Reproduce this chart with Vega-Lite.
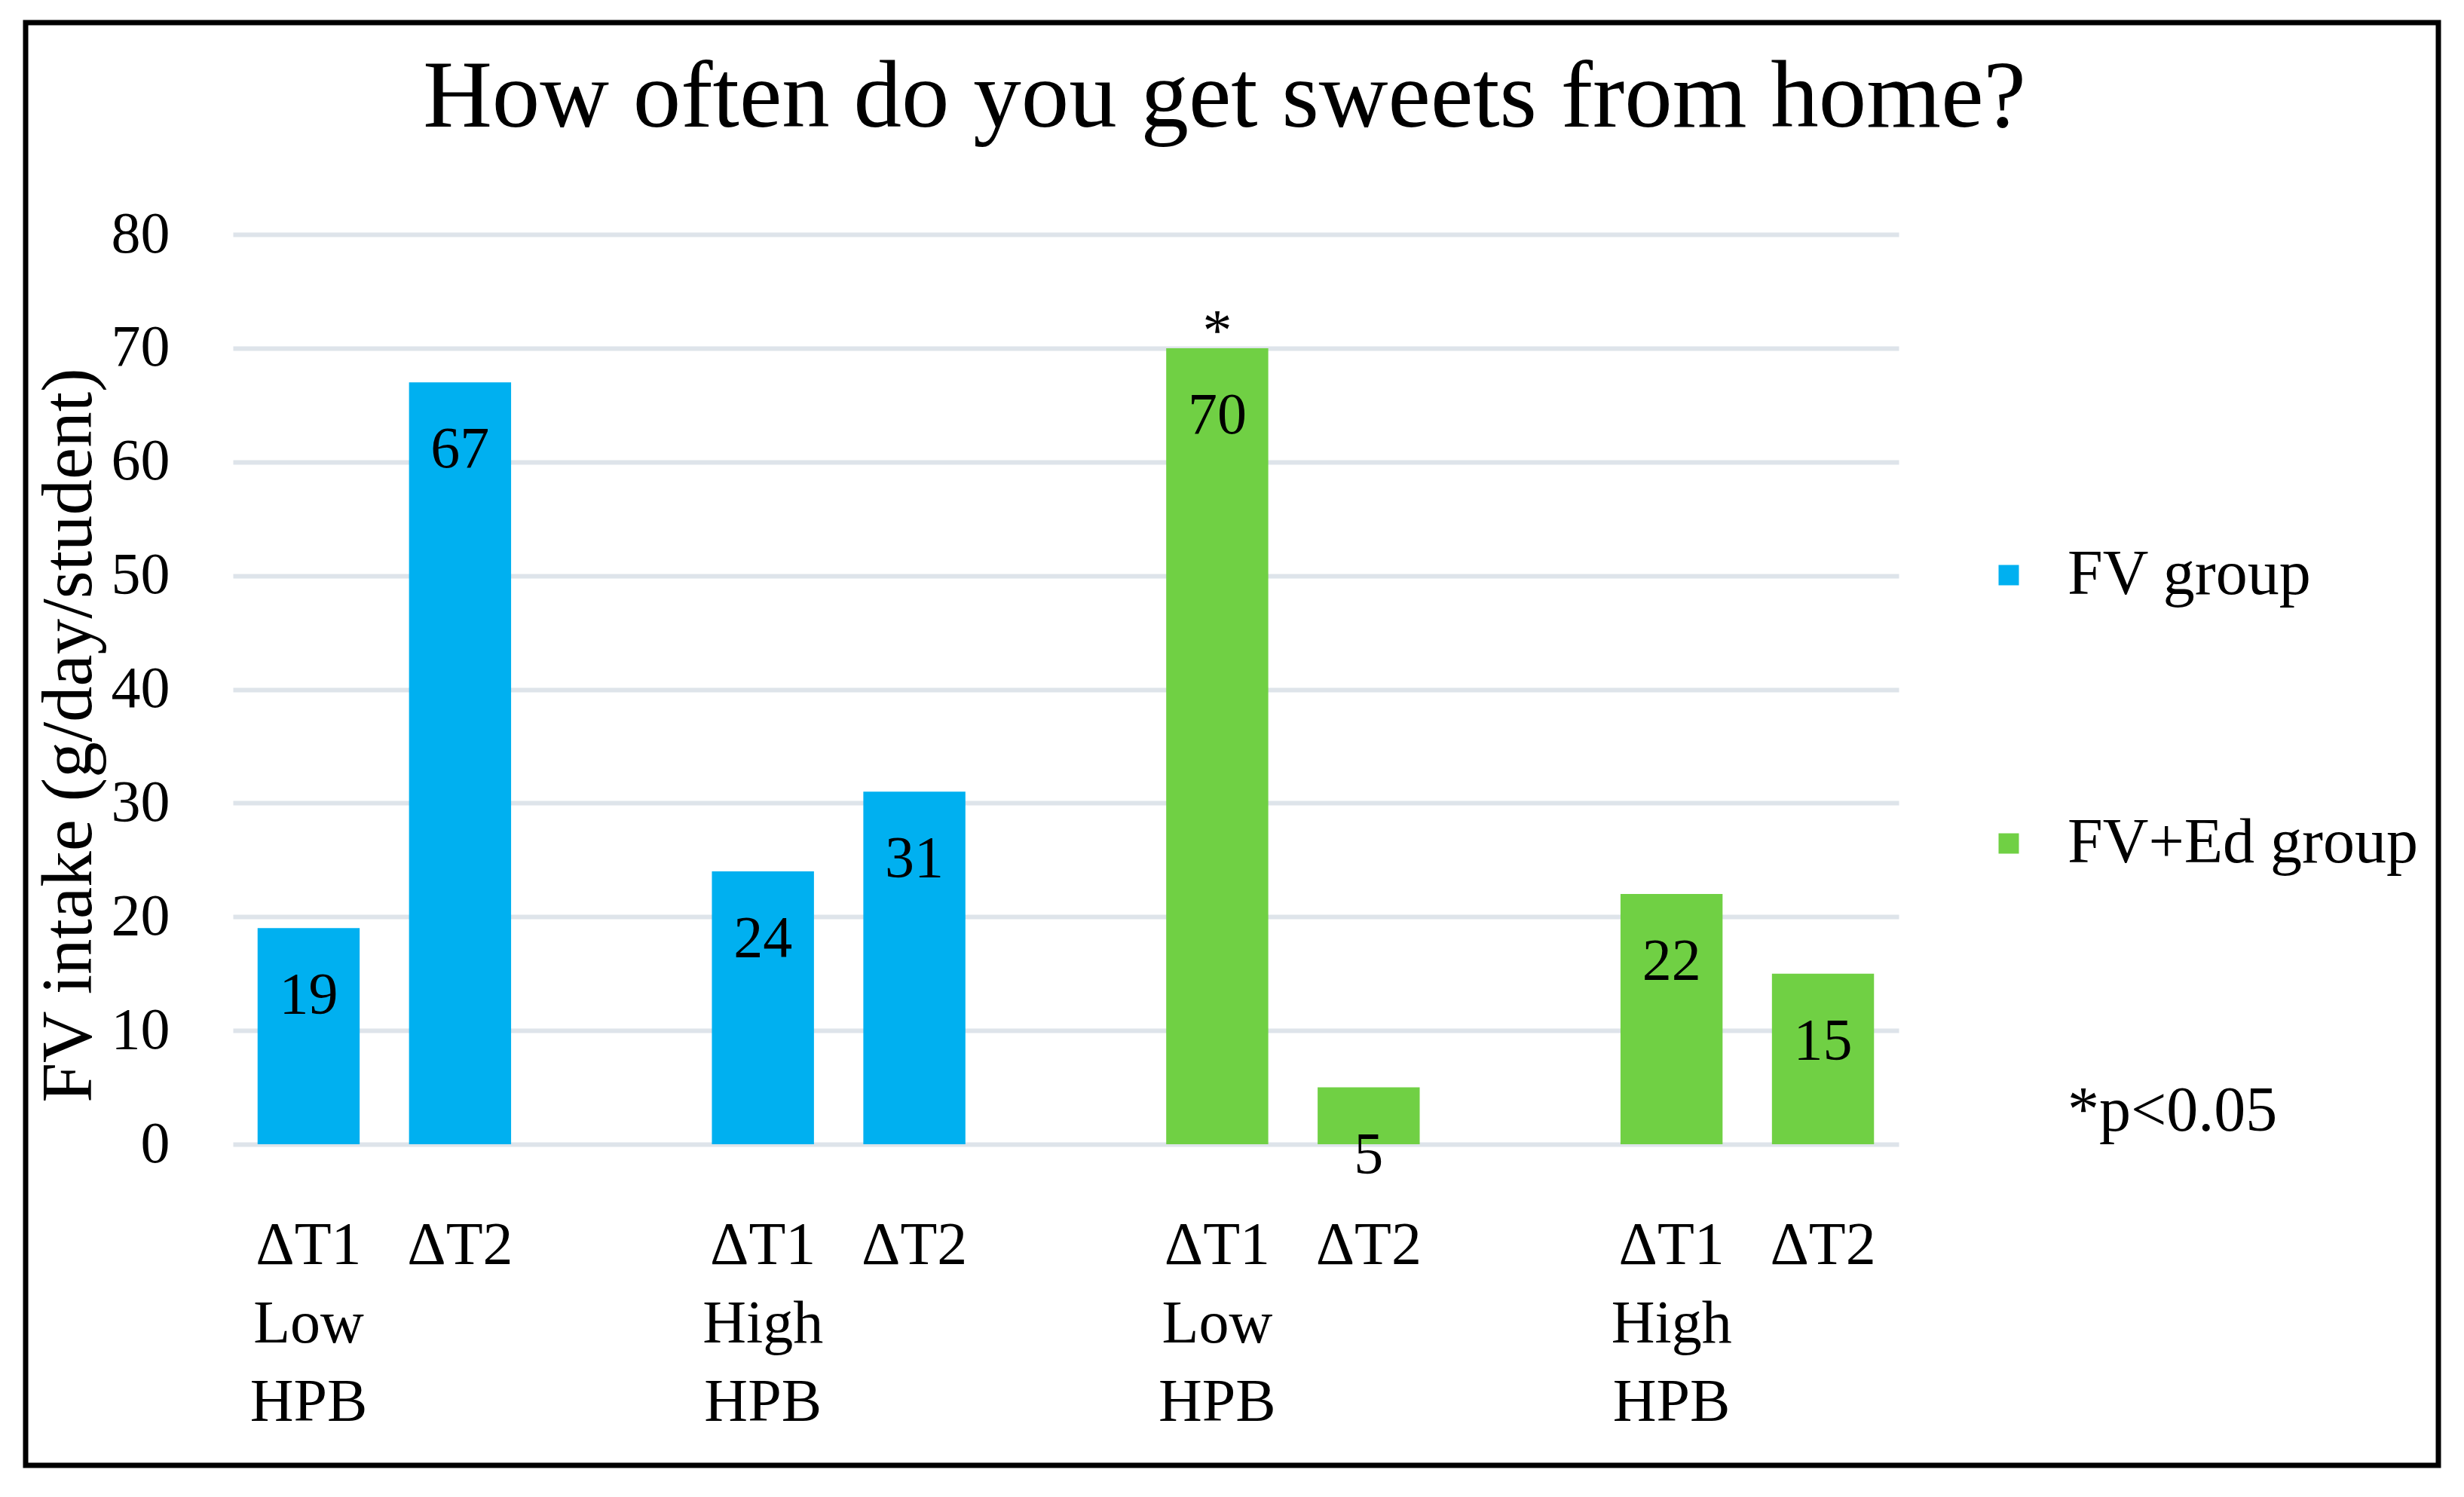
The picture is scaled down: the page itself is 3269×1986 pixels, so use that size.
{
  "$schema": "https://vega.github.io/schema/vega-lite/v6.json",
  "width": 3201,
  "height": 1914,
  "autosize": {"type": "none"},
  "padding": {"left": 34, "top": 30, "right": 34, "bottom": 42},
  "background": "white",
  "config": {
    "font": "Liberation Serif",
    "view": {"stroke": "black", "strokeWidth": 7}
  },
  "title": {
    "text": "How often do you get sweets from home?",
    "fontSize": 127,
    "fontWeight": "normal",
    "color": "black",
    "anchor": "middle",
    "frame": "group",
    "baseline": "alphabetic",
    "offset": -265,
    "dx": -10
  },
  "data": {
    "values": [
      {"slot": "ΔT1|Low|HPB#1", "group": "FV group", "value": 19, "sig": ""},
      {"slot": "ΔT2#2", "group": "FV group", "value": 67, "sig": ""},
      {"slot": "ΔT1|High|HPB#4", "group": "FV group", "value": 24, "sig": ""},
      {"slot": "ΔT2#5", "group": "FV group", "value": 31, "sig": ""},
      {"slot": "ΔT1|Low|HPB#7", "group": "FV+Ed group", "value": 70, "sig": "*"},
      {"slot": "ΔT2#8", "group": "FV+Ed group", "value": 5, "sig": ""},
      {"slot": "ΔT1|High|HPB#10", "group": "FV+Ed group", "value": 22, "sig": ""},
      {"slot": "ΔT2#11", "group": "FV+Ed group", "value": 15, "sig": ""}
    ]
  },
  "encoding": {
    "x": {
      "field": "slot",
      "type": "nominal",
      "sort": null,
      "scale": {
        "domain": ["ΔT1|Low|HPB#1", "ΔT2#2", "#3", "ΔT1|High|HPB#4", "ΔT2#5", "#6", "ΔT1|Low|HPB#7", "ΔT2#8", "#9", "ΔT1|High|HPB#10", "ΔT2#11"],
        "range": [275, 2485],
        "paddingInner": 0.326,
        "paddingOuter": 0.163
      },
      "axis": {
        "title": null,
        "offset": -426,
        "domain": false,
        "ticks": false,
        "tickSize": 0,
        "grid": false,
        "labelAngle": 0,
        "labelBaseline": "top",
        "labelAlign": "center",
        "labelFontSize": 80,
        "labelLineHeight": 104,
        "labelPadding": 95,
        "labelColor": "black",
        "labelOverlap": false,
        "labelLimit": 0,
        "labelExpr": "split(split(datum.value, '#')[0], '|')"
      }
    },
    "y": {
      "field": "value",
      "type": "quantitative",
      "scale": {"domain": [0, 80], "range": [1488, 281], "nice": false, "zero": true},
      "axis": {
        "title": "FV intake (g/day/student)",
        "values": [0, 10, 20, 30, 40, 50, 60, 70, 80],
        "offset": -275,
        "domain": false,
        "ticks": false,
        "tickSize": 0,
        "grid": true,
        "gridColor": "#dee4ea",
        "gridWidth": 6,
        "labelFontSize": 78,
        "labelPadding": 84,
        "labelColor": "black",
        "titleFontSize": 95,
        "titleFontWeight": "normal",
        "titleColor": "black",
        "titleBaseline": "alphabetic",
        "titleX": -189,
        "titleY": 945
      }
    }
  },
  "layer": [
    {
      "mark": {"type": "bar"},
      "encoding": {
        "color": {
          "field": "group",
          "type": "nominal",
          "scale": {
            "domain": ["FV group", "FV+Ed group", "*p<0.05"],
            "range": ["#00b0f0", "#70d044", "rgba(0,0,0,0)"]
          },
          "legend": {
            "title": null,
            "orient": "none",
            "legendX": 2589,
            "legendY": 691,
            "direction": "vertical",
            "symbolType": "square",
            "symbolSize": 729,
            "symbolStrokeWidth": 0,
            "labelFontSize": 84,
            "labelOffset": 36,
            "labelColor": "black",
            "labelLimit": 0,
            "rowPadding": 272,
            "padding": 0
          }
        }
      }
    },
    {
      "mark": {"type": "text", "baseline": "middle", "align": "center", "dy": 90, "fontSize": 78, "color": "black"},
      "encoding": {"text": {"field": "value", "type": "quantitative"}}
    },
    {
      "mark": {"type": "text", "baseline": "alphabetic", "align": "center", "dy": 2, "fontSize": 78, "color": "black"},
      "encoding": {"text": {"field": "sig", "type": "nominal"}}
    }
  ]
}
